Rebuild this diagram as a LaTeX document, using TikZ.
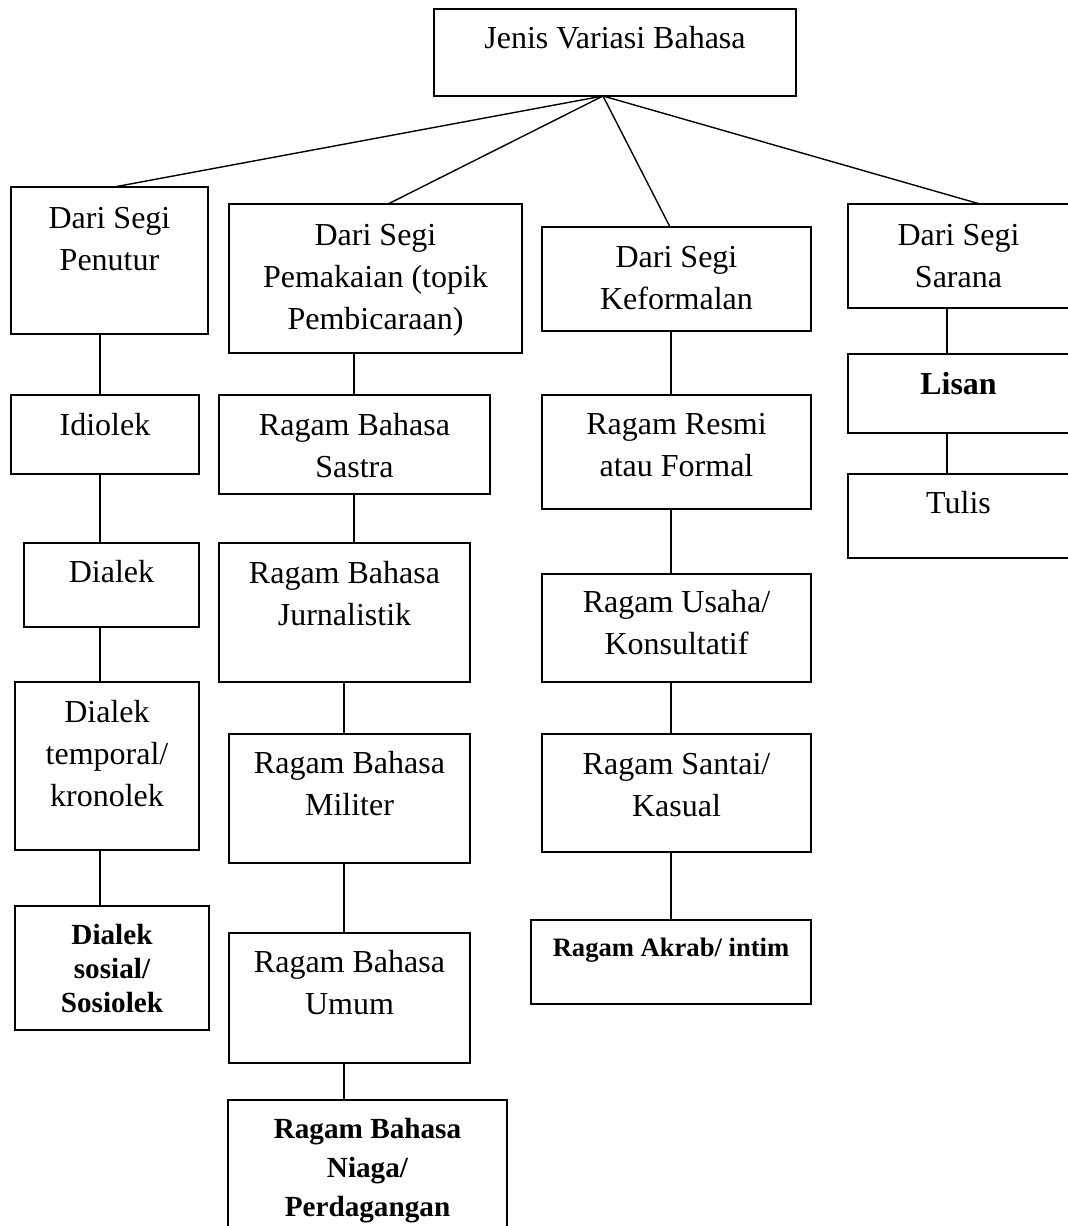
\documentclass[tikz,border=0pt]{standalone}
\usepackage{fontspec}
\setmainfont{Liberation Serif}
\usetikzlibrary{calc}
\newcommand\mkbox[5]{\node[box, minimum width={0.5pt*(#4-#2)}, minimum height={0.5pt*(#5-#3)}] (#1) at (#2,#3) {};}
\begin{document}
\begin{tikzpicture}[x=0.5pt,y=-0.5pt,
  box/.style={draw, line width=0.8pt, inner sep=0pt, outer sep=0pt, anchor=north west},
  txt/.style={anchor=base, align=center, inner sep=0pt, font=\fontsize{16}{21}\selectfont},
  btxt/.style={anchor=base, align=center, inner sep=0pt, font=\bfseries\fontsize{16}{21}\selectfont},
  btxtm/.style={anchor=base, align=center, inner sep=0pt, font=\bfseries\fontsize{14.6}{17}\selectfont},
  btxtn/.style={anchor=base, align=center, inner sep=0pt, font=\bfseries\fontsize{14.6}{19.5}\selectfont},
  btxts/.style={anchor=base, align=center, inner sep=0pt, font=\bfseries\fontsize{13.3}{16}\selectfont},
  link/.style={line width=0.7pt}]
\useasboundingbox (0,0) rectangle (1067,1226);
% boxes
\mkbox{top}{434}{9}{796}{96}
\mkbox{pen}{11}{187}{208}{334}
\mkbox{pem}{229}{204}{522}{353}
\mkbox{kef}{542}{227}{811}{331}
\mkbox{sar}{848}{204}{1069}{308}
\mkbox{idi}{11}{395}{199}{474}
\mkbox{sas}{219}{395}{490}{494}
\mkbox{res}{542}{395}{811}{509}
\mkbox{lis}{848}{354}{1069}{433}
\mkbox{tul}{848}{474}{1069}{558}
\mkbox{dia}{24}{543}{199}{627}
\mkbox{jur}{219}{543}{470}{682}
\mkbox{usa}{542}{574}{811}{682}
\mkbox{tem}{15}{682}{199}{850}
\mkbox{mil}{229}{734}{470}{863}
\mkbox{san}{542}{734}{811}{852}
\mkbox{sos}{15}{906}{209}{1030}
\mkbox{umu}{229}{933}{470}{1063}
\mkbox{akr}{531}{920}{811}{1004}
\mkbox{nia}{228}{1100}{507}{1240}
% texts (anchor = baseline of the last line)
\node[txt] (ttop) at ($(top.north)+(0,39)$) {Jenis Variasi Bahasa};
\node[txt] (tpen) at ($(pen.north)+(0,83)$) {Dari Segi\\Penutur};
\node[txt] (tpem) at ($(pem.north)+(0,125)$) {Dari Segi\\Pemakaian (topik\\Pembicaraan)};
\node[txt] (tkef) at ($(kef.north)+(0,82)$) {Dari Segi\\Keformalan};
\node[txt] (tsar) at ($(sar.north)+(0,83)$) {Dari Segi\\Sarana};
\node[txt] (tidi) at ($(idi.north)+(0,40)$) {Idiolek};
\node[txt] (tsas) at ($(sas.north)+(0,82)$) {Ragam Bahasa\\Sastra};
\node[txt] (tres) at ($(res.north)+(0,81)$) {Ragam Resmi\\atau Formal};
\node[btxt] (tlis) at ($(lis.north)+(0,40)$) {Lisan};
\node[txt] (ttul) at ($(tul.north)+(0,39)$) {Tulis};
\node[txt] (tdia) at ($(dia.north)+(0,39)$) {Dialek};
\node[txt] (tjur) at ($(jur.north)+(0,82)$) {Ragam Bahasa\\Jurnalistik};
\node[txt] (tusa) at ($(usa.north)+(0,80)$) {Ragam Usaha/\\Konsultatif};
\node[txt] (ttem) at ($(tem.north)+(0,124)$) {Dialek\\temporal/\\kronolek};
\node[txt] (tmil) at ($(mil.north)+(0,81)$) {Ragam Bahasa\\Militer};
\node[txt] (tsan) at ($(san.north)+(0,82)$) {Ragam Santai/\\Kasual};
\node[btxtm] (tsos) at ($(sos.north)+(0,106)$) {Dialek\\sosial/\\Sosiolek};
\node[txt] (tumu) at ($(umu.north)+(0,81)$) {Ragam Bahasa\\Umum};
\node[btxts] (takr) at ($(akr.north)+(0,36)$) {Ragam Akrab/ intim};
\node[btxtn] (tnia) at ($(nia.north)+(0,116)$) {Ragam Bahasa\\Niaga/\\Perdagangan};
% connector x positions
\coordinate (hub) at (603,0);
\coordinate (pA) at (114,0);
\coordinate (pB) at (388,0);
\coordinate (pC) at (670,0);
\coordinate (pD) at (980,0);
\coordinate (cL) at (100,0);
\coordinate (cP) at (354,0);
\coordinate (cQ) at (344,0);
\coordinate (cK) at (671,0);
\coordinate (cS) at (947,0);
% top connectors
\draw[link] (top.south -| hub) -- (pen.north -| pA);
\draw[link] (top.south -| hub) -- (pem.north -| pB);
\draw[link] (top.south -| hub) -- (kef.north -| pC);
\draw[link] (top.south -| hub) -- (sar.north -| pD);
% column 1
\draw[link] (pen.south -| cL) -- (idi.north -| cL);
\draw[link] (idi.south -| cL) -- (dia.north -| cL);
\draw[link] (dia.south -| cL) -- (tem.north -| cL);
\draw[link] (tem.south -| cL) -- (sos.north -| cL);
% column 2
\draw[link] (pem.south -| cP) -- (sas.north -| cP);
\draw[link] (sas.south -| cP) -- (jur.north -| cP);
\draw[link] (jur.south -| cQ) -- (mil.north -| cQ);
\draw[link] (mil.south -| cQ) -- (umu.north -| cQ);
\draw[link] (umu.south -| cQ) -- (nia.north -| cQ);
% column 3
\draw[link] (kef.south -| cK) -- (res.north -| cK);
\draw[link] (res.south -| cK) -- (usa.north -| cK);
\draw[link] (usa.south -| cK) -- (san.north -| cK);
\draw[link] (san.south -| cK) -- (akr.north -| cK);
% column 4
\draw[link] (sar.south -| cS) -- (lis.north -| cS);
\draw[link] (lis.south -| cS) -- (tul.north -| cS);
\end{tikzpicture}
\end{document}
